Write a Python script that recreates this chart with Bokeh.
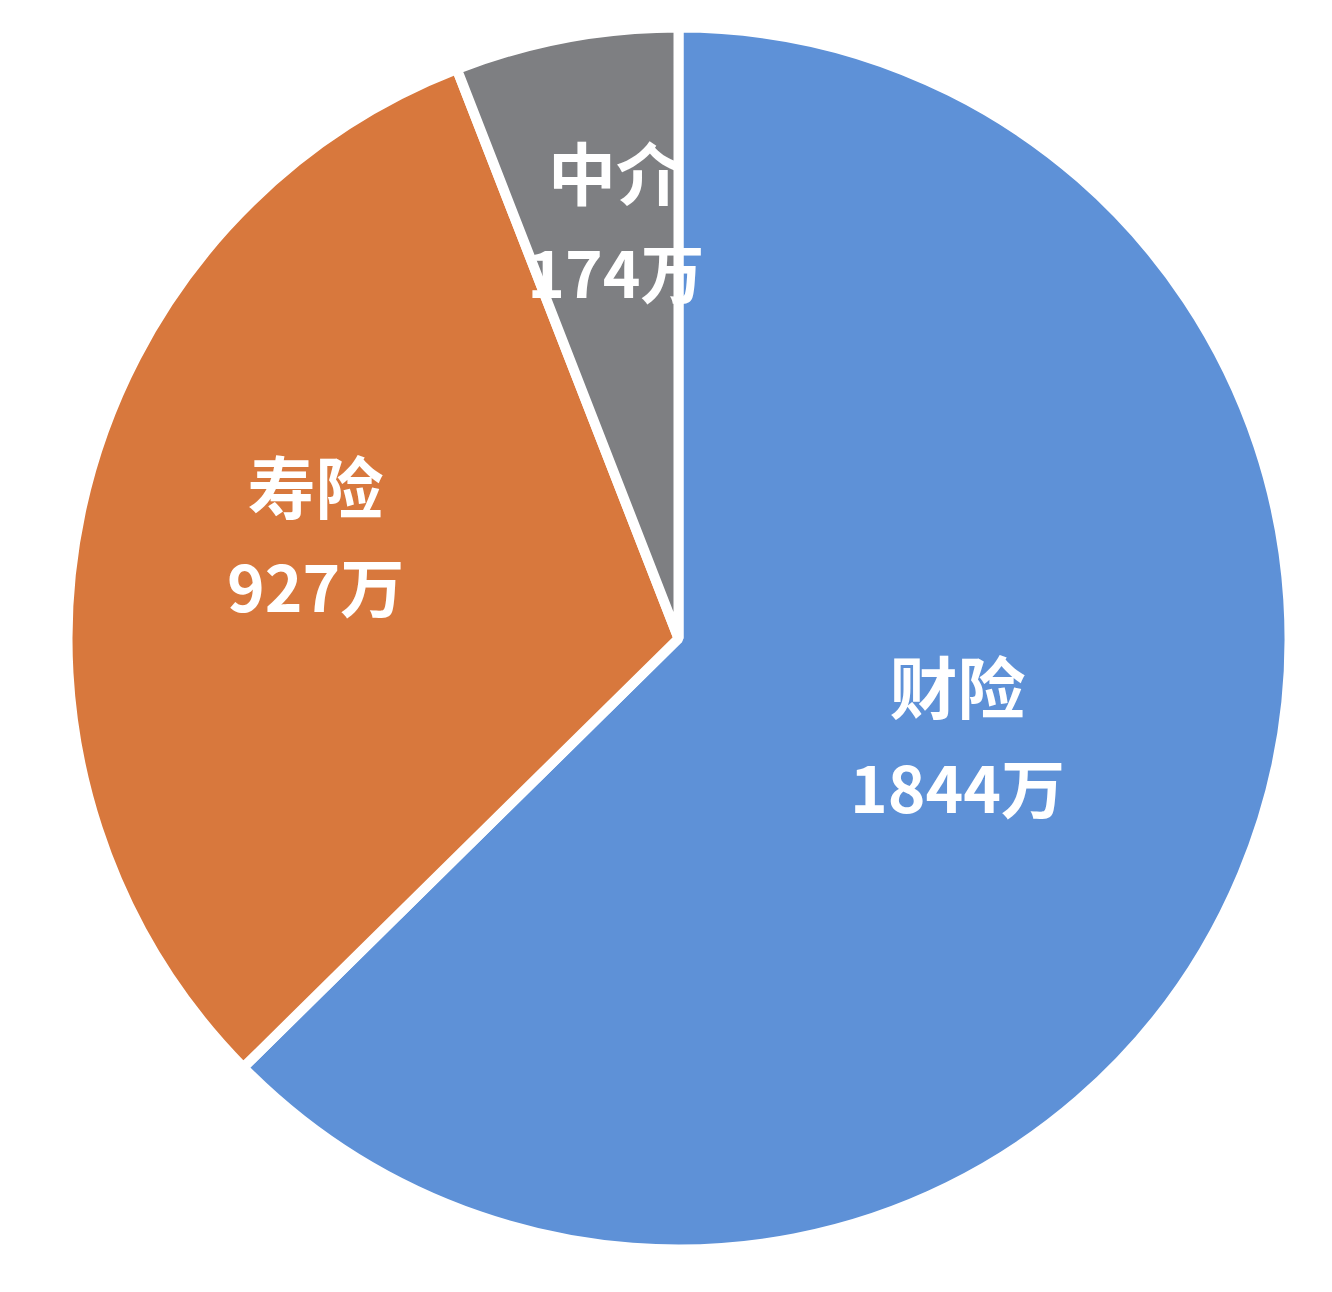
import math
from bokeh.plotting import figure
from bokeh.models import ColumnDataSource, Range1d
from bokeh.core.properties import value
from bokeh.embed import file_html
from bokeh.resources import INLINE

# ---- data ----
categories = ["财险", "寿险", "中介"]
values = [1844, 927, 174]
value_labels = ["1844万", "927万", "174万"]
colors = ["#5E91D7", "#D8783D", "#7E7F82"]

# ---- layout ----
W, H = 1316, 1276
cx, cy = 678, H - 638
R = 611
label_r = [297, 376, 417]
label_shift_deg = [2.6, -3.1, -2.0]
label_lift = 6

total = sum(values)
starts, ends, mids = [], [], []
a = math.pi / 2
for v in values:
    sweep = 2 * math.pi * v / total
    starts.append(a)
    ends.append(a - sweep)
    mids.append(a - sweep / 2)
    a -= sweep

lx = [cx + r * math.cos(m + math.radians(s)) for r, m, s in zip(label_r, mids, label_shift_deg)]
ly = [cy + label_lift + r * math.sin(m + math.radians(s)) for r, m, s in zip(label_r, mids, label_shift_deg)]

src = ColumnDataSource(dict(
    x=[cx] * len(values), y=[cy] * len(values),
    start=starts, end=ends, color=colors,
    cat=categories, val=value_labels,
    lx=lx, ly_top=[y + 50 for y in ly], ly_bot=[y - 50 for y in ly],
))

p = figure(width=W, height=H, output_backend="svg", toolbar_location=None,
           x_range=Range1d(0, W), y_range=Range1d(0, H),
           min_border=0, outline_line_color=None)
p.axis.visible = False
p.grid.visible = False
p.background_fill_color = "white"
p.border_fill_color = "white"

p.wedge(x="x", y="y", radius=R, start_angle="start", end_angle="end",
        direction="clock", fill_color="color", line_color="white",
        line_width=10, source=src)

p.text(x="lx", y="ly_top", text="cat", source=src, text_color="white",
       text_font=value("Noto Sans CJK SC"), text_font_style="bold",
       text_font_size="68px", text_align="center", text_baseline="middle")
p.text(x="lx", y="ly_bot", text="val", source=src, text_color="white",
       text_font=value("Noto Sans CJK SC"), text_font_style="bold",
       text_font_size="64px", text_align="center", text_baseline="middle")

open("out.html", "w").write(file_html(p, INLINE))
